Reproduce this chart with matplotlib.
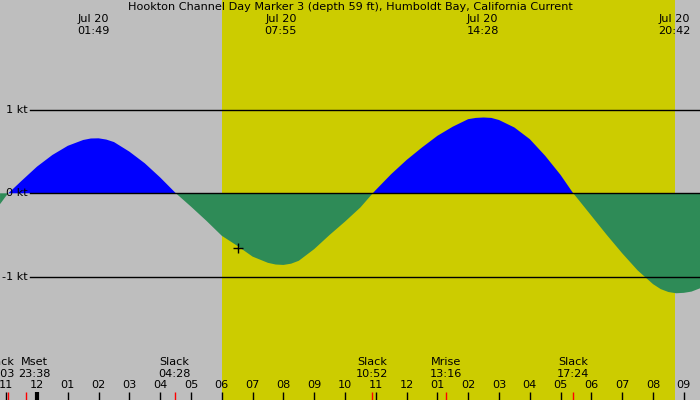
import numpy as np
import matplotlib as mpl
mpl.use('Agg')
import matplotlib.pyplot as plt

# current speed (kt), time in hours from midnight Jul 20
hours = [-1.20, -1.00, -0.93, -0.50, 0.00, 0.50, 1.00, 1.50, 1.75, 2.00, 2.25, 2.50,
         3.00, 3.50, 4.00, 4.51,
         5.00, 5.50, 6.00, 6.50, 7.00, 7.50, 7.75, 8.00, 8.25, 8.50, 9.00, 9.50,
         10.00, 10.50, 10.90,
         11.00, 11.50, 12.00, 12.50, 13.00, 13.50, 14.00, 14.25, 14.50, 14.75, 15.00,
         15.50, 16.00, 16.50, 17.00, 17.41,
         17.50, 18.00, 18.50, 19.00, 19.50, 20.00, 20.25, 20.50, 20.75, 21.00, 21.25,
         21.53]
speed = [-0.13, -0.03, 0.00, 0.15, 0.32, 0.46, 0.57, 0.64, 0.658, 0.66, 0.645, 0.615,
         0.50, 0.36, 0.19, 0.00,
         -0.16, -0.33, -0.51, -0.63, -0.76, -0.835, -0.855, -0.86, -0.845, -0.81, -0.67, -0.50,
         -0.34, -0.17, 0.00,
         0.04, 0.23, 0.40, 0.55, 0.69, 0.80, 0.89, 0.905, 0.91, 0.905, 0.88,
         0.79, 0.65, 0.45, 0.22, 0.00,
         -0.04, -0.27, -0.50, -0.72, -0.925, -1.09, -1.15, -1.185, -1.20, -1.195, -1.18,
         -1.14]

# max current events shown on top
top_times = [1 + 49/60, 7 + 55/60, 14 + 28/60, 20 + 42/60]
top_labels = ['01:49', '07:55', '14:28', '20:42']

# events on the bottom
ev_names = ['Slack', 'Mset', 'Slack', 'Slack', 'Mrise', 'Slack']
ev_labels = ['23:03', '23:38', '04:28', '10:52', '13:16', '17:24']
ev_times = [-1 + 3/60, -1 + 38/60, 4 + 28/60, 10 + 52/60, 13 + 16/60, 17 + 24/60]

sunrise = 6 + 1/60
sunset = 20 + 42/60
now_h, now_v = 6.53, -0.66

title = 'Hookton Channel Day Marker 3 (depth 59 ft), Humboldt Bay, California Current'

W, H = 700, 400
px_per_h = 30.8
x0 = 37.0          # pixel of midnight
px_per_kt = 83.3
y0 = 193.3         # pixel of 0 kt (from top)

xmin = -x0 / px_per_h
xmax = (W - x0) / px_per_h
ymax = y0 / px_per_kt
ymin = (y0 - H) / px_per_kt

fig = plt.figure(figsize=(7, 4), dpi=100)
ax = fig.add_axes([0, 0, 1, 1])
ax.set_xlim(xmin, xmax)
ax.set_ylim(ymin, ymax)
ax.axis('off')
fig.patch.set_facecolor('#bebebe')
ax.set_facecolor('#bebebe')

fs = 8.1

ax.axvspan(sunrise, sunset, color='#cccc00', lw=0, zorder=0)

h = np.array(hours)
v = np.array(speed)
ax.fill_between(h, v, 0, where=v >= 0, interpolate=True, color='#0000ff', lw=0, zorder=1)
ax.fill_between(h, v, 0, where=v <= 0, interpolate=True, color='#2e8b57', lw=0, zorder=1)

# kt grid lines with labels
line_start = xmin + 30 / px_per_h
for k in [1, 0, -1]:
    ax.plot([line_start, xmax], [k, k], color='black', lw=1, zorder=2)
    ax.text(xmin + 28 / px_per_h, k, '%d kt' % k, ha='right', va='center',
            fontsize=fs, zorder=3)

ax.plot(now_h, now_v, marker='+', color='black', ms=7, mew=1, zorder=4)

# title and top labels
ax.text((xmin + xmax) / 2, ymax - 7 / px_per_kt, title, ha='center', va='center', fontsize=fs)
for t, lab in zip(top_times, top_labels):
    ax.text(t, ymax - 19 / px_per_kt, 'Jul 20', ha='center', va='center', fontsize=fs)
    ax.text(t, ymax - 31 / px_per_kt, lab, ha='center', va='center', fontsize=fs)

# hour ticks
tick_top = ymin + 8 / px_per_kt
for hr in range(-1, 22):
    lab = '%02d' % ((hr % 12) or 12)
    ax.text(hr, ymin + 15 / px_per_kt, lab, ha='center', va='center', fontsize=fs)
    lw = 3 if hr % 24 == 0 else 1
    ax.plot([hr, hr], [ymin, tick_top], color='black', lw=lw, solid_capstyle='butt')

# event ticks and labels, pushed apart where they overlap
pos = list(ev_times)
min_gap = 36 / px_per_h
for i in range(len(pos) - 1):
    gap = pos[i + 1] - pos[i]
    if gap < min_gap:
        d = (min_gap - gap) / 2
        pos[i] -= d
        pos[i + 1] += d
for t, p, name, lab in zip(ev_times, pos, ev_names, ev_labels):
    ax.plot([t, t], [ymin, tick_top], color='red', lw=1, solid_capstyle='butt')
    ax.text(p, ymin + 38 / px_per_kt, name, ha='center', va='center', fontsize=fs)
    ax.text(p, ymin + 26 / px_per_kt, lab, ha='center', va='center', fontsize=fs)

fig.savefig('out.png', dpi=100, facecolor=fig.get_facecolor())
